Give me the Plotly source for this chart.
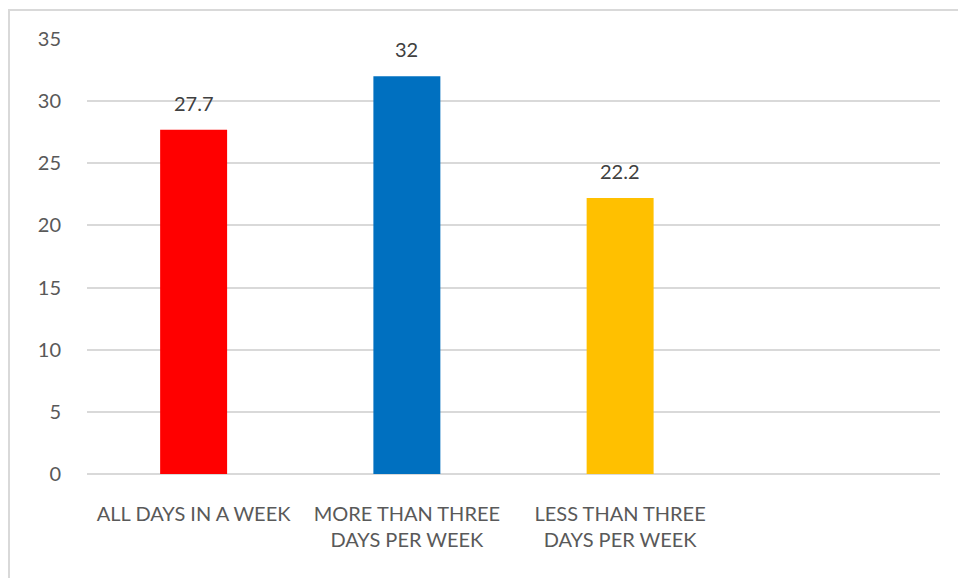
import plotly.graph_objects as go

categories = ["ALL DAYS IN A WEEK", "MORE THAN THREE<br>DAYS PER WEEK", "LESS THAN THREE<br>DAYS PER WEEK"]
values = [27.7, 32, 22.2]
colors = ["#FF0000", "#0070C0", "#FFC000"]
y_ticks = [0, 5, 10, 15, 20, 25, 30, 35]

positions = list(range(len(categories)))

fig = go.Figure()
fig.add_trace(go.Bar(
    x=positions, y=values, marker=dict(color=colors, line=dict(width=0)),
    width=0.314,
))

for p, v in zip(positions, values):
    fig.add_annotation(x=p, y=v, text=f"{v:g}", showarrow=False, yanchor="bottom",
                       yshift=13, font=dict(size=20, color="#404040", family="Lato"))

fig.update_layout(
    width=958, height=578,
    margin=dict(l=87, r=18, t=39, b=104),
    paper_bgcolor="white", plot_bgcolor="white",
    showlegend=False,
    font=dict(family="Lato", color="#595959"),
    xaxis=dict(range=[-0.5, 3.5], tickvals=positions, ticktext=categories,
               showgrid=False, zeroline=False, showline=False,
               ticks="outside", ticklen=22, tickcolor="rgba(0,0,0,0)",
               tickfont=dict(size=20, color="#595959")),
    yaxis=dict(range=[0, 35], tickvals=y_ticks, showgrid=True, gridcolor="#D9D9D9",
               gridwidth=1.5, zeroline=True, zerolinecolor="#D9D9D9", zerolinewidth=1.5,
               showline=False, ticks="outside", ticklen=21, tickcolor="rgba(0,0,0,0)",
               tickfont=dict(size=20, color="#595959")),
    shapes=[dict(type="rect", xref="paper", yref="paper",
                 x0=(9 - 87) / 853, x1=1.2, y0=-0.5, y1=(474 - 10) / 435,
                 line=dict(color="#D9D9D9", width=2), fillcolor="rgba(0,0,0,0)", layer="below")],
)

fig.write_html("out.html")
